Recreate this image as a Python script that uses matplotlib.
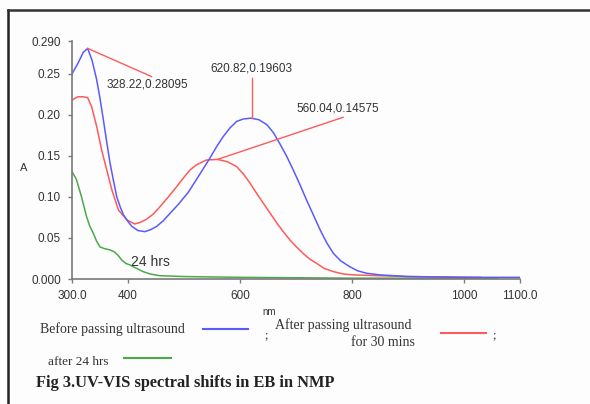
import matplotlib
matplotlib.use("Agg")
import matplotlib.pyplot as plt
from matplotlib.lines import Line2D

# wavelength (nm) / absorbance
nm_before = [300, 310, 320, 328, 336, 344, 350, 356, 362, 368, 374, 380, 386, 392, 400, 407,
             418, 430, 440, 451, 463, 475, 490, 508, 522, 534, 546, 558, 570, 582, 594, 606,
             620, 634, 648, 660, 671, 683, 695, 707, 719, 731, 743, 755, 767, 780, 796, 810,
             826, 850, 900, 1000, 1100]
a_before = [0.250, 0.262, 0.276, 0.281, 0.266, 0.243, 0.220, 0.194, 0.167, 0.141, 0.120, 0.100,
            0.088, 0.078, 0.070, 0.064, 0.059, 0.0577, 0.060, 0.064, 0.071, 0.080, 0.091, 0.106,
            0.121, 0.134, 0.147, 0.161, 0.1735, 0.184, 0.192, 0.195, 0.196, 0.194, 0.188, 0.178,
            0.165, 0.150, 0.133, 0.115, 0.096, 0.078, 0.060, 0.044, 0.031, 0.022, 0.015, 0.010,
            0.007, 0.005, 0.003, 0.002, 0.002]

nm_after = [300, 310, 320, 328, 335, 344, 353, 362, 371, 383, 398, 412, 422, 433, 445, 457,
            472, 487, 500, 511, 522, 540, 560, 577, 594, 606, 618, 630, 642, 654, 666, 678,
            689, 701, 713, 725, 737, 750, 767, 785, 802, 850, 900, 1030]
a_after = [0.218, 0.222, 0.222, 0.221, 0.210, 0.186, 0.157, 0.133, 0.109, 0.084, 0.072, 0.067,
           0.069, 0.0728, 0.079, 0.088, 0.100, 0.1126, 0.124, 0.133, 0.139, 0.145, 0.1457,
           0.143, 0.137, 0.128, 0.1167, 0.104, 0.092, 0.080, 0.068, 0.057, 0.0476, 0.039,
           0.031, 0.024, 0.019, 0.013, 0.009, 0.006, 0.005, 0.004, 0.003, 0.002]

nm_24h = [300, 308, 317, 326, 332, 338, 344, 350, 358, 368, 376, 382, 389, 396, 404, 415,
          427, 440, 457, 500, 600, 800, 1060]
a_24h = [0.131, 0.121, 0.100, 0.076, 0.064, 0.0557, 0.046, 0.039, 0.037, 0.0354, 0.033, 0.029,
         0.023, 0.019, 0.017, 0.013, 0.009, 0.006, 0.004, 0.003, 0.002, 0.001, 0.001]

xticks = [300, 400, 600, 800, 1000, 1100]
xlabels = ["300.0", "400", "600", "800", "1000", "1100.0"]
yticks = [0.0, 0.05, 0.10, 0.15, 0.20, 0.25, 0.29]
ylabels = ["0.000", "0.05", "0.10", "0.15", "0.20", "0.25", "0.290"]

blue, red, green = "#5a5aff", "#ff5a5a", "#4aaa4a"
grey = "#7a7a7a"
txt = "#333333"

plt.rcParams['font.family'] = ['Liberation Sans', 'DejaVu Sans']
fig = plt.figure(figsize=(5.9, 4.04), dpi=100, facecolor="#fdfdfd")
ax = fig.add_axes([72 / 590, 125 / 404, 448 / 590, 238 / 404])
ax.set_facecolor("none")

ax.plot(nm_24h, a_24h, color=green, lw=1.1)
ax.plot(nm_after, a_after, color=red, lw=1.1)
ax.plot(nm_before, a_before, color=blue, lw=1.1)

# peak call-outs
ax.plot([328.22, 442], [0.28095, 0.2467], color=red, lw=1)
ax.text(362, 0.2366, "328.22,0.28095", fontsize=8.5, color=txt, va="center")
ax.plot([620.82, 620.82], [0.19603, 0.245], color=red, lw=1)
ax.text(620, 0.257, "620.82,0.19603", fontsize=8.5, color=txt, va="center", ha="center")
ax.plot([560.04, 784], [0.14575, 0.197], color=red, lw=1)
ax.text(701, 0.2075, "560.04,0.14575", fontsize=8.5, color=txt, va="center")
ax.text(406, 0.021, "24 hrs", fontsize=10, color=txt, va="center")

ax.set_xlim(300, 1100)
ax.set_ylim(0, 0.29)
ax.set_xticks(xticks)
ax.set_xticklabels(xlabels)
ax.set_yticks(yticks)
ax.set_yticklabels(ylabels)
for s in ["top", "right"]:
    ax.spines[s].set_visible(False)
for s in ["left", "bottom"]:
    ax.spines[s].set_color(grey)
    ax.spines[s].set_linewidth(1.2)
ax.tick_params(length=3, width=1, color=grey, labelsize=8.5, labelcolor=txt, pad=5)

fig.text(20 / 590, 1 - 168 / 404, "A", fontsize=8, color=txt, va="center")
fig.text(262 / 590, 1 - 312 / 404, "nm", fontsize=7, color=txt, va="center")

# legend rows drawn as in the scan
serif = ['Liberation Serif', 'DejaVu Serif']
fig.text(40 / 590, 1 - 329 / 404, "Before passing ultrasound", fontsize=10, family=serif,
         color=txt, va="center")
fig.add_artist(Line2D([203 / 590, 248 / 590], [1 - 329 / 404] * 2, color=blue, lw=1.5))
fig.text(264 / 590, 1 - 335 / 404, ";", fontsize=9, family=serif, color=txt, va="center")
fig.text(275 / 590, 1 - 325 / 404, "After passing ultrasound", fontsize=10, family=serif,
         color=txt, va="center")
fig.text(415 / 590, 1 - 343 / 404, "for 30 mins", fontsize=10, family=serif,
         color=txt, va="center", ha="right")
fig.add_artist(Line2D([441 / 590, 486 / 590], [1 - 333 / 404] * 2, color=red, lw=1.5))
fig.text(492 / 590, 1 - 335 / 404, ";", fontsize=9, family=serif, color=txt, va="center")
fig.text(48 / 590, 1 - 362 / 404, "after 24 hrs", fontsize=9.5, family=serif,
         color=txt, va="center")
fig.add_artist(Line2D([124 / 590, 171 / 590], [1 - 358 / 404] * 2, color=green, lw=1.5))
fig.text(36 / 590, 1 - 383 / 404, "Fig 3.UV-VIS spectral shifts in EB in NMP", fontsize=11.8,
         family=serif, weight="bold", color="#222222", va="center")

# scanned frame around the figure
fig.add_artist(Line2D([8 / 590, 8 / 590], [-0.1, 1 - 10 / 404], color="#222222", lw=1.8))
fig.add_artist(Line2D([8 / 590, 1.1], [1 - 10 / 404] * 2, color="#333333", lw=1.8))

fig.savefig("out.png", dpi=100, facecolor=fig.get_facecolor())
